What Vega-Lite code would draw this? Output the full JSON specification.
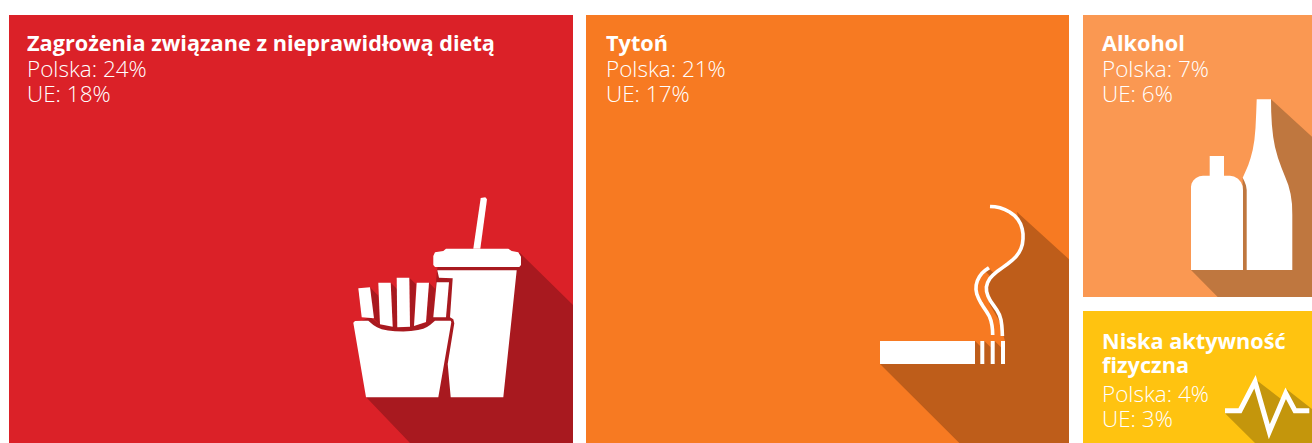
{
"$schema":"https://vega.github.io/schema/vega-lite/v6.json",
"width":1312,"height":443,"padding":0,"autosize":"none","background":"#ffffff",
"config":{"view":{"stroke":null}},
"resolve":{"scale":{"color":"independent"}},
"datasets":{
"tiles":[
{"tile":"dieta","x0":9,"x1":573,"y0":15,"y1":443},
{"tile":"tyton","x0":586,"x1":1069,"y0":15,"y1":443},
{"tile":"alkohol","x0":1083,"x1":1312,"y0":15,"y1":297},
{"tile":"aktywnosc","x0":1083,"x1":1312,"y0":311,"y1":443}],
"heads":[
{"label":"Zagrożenia związane z nieprawidłową dietą","x":27,"y":50.5},
{"label":"Tytoń","x":606,"y":50.5},
{"label":"Alkohol","x":1102,"y":50.5},
{"label":"Niska aktywność","x":1102,"y":349},
{"label":"fizyczna","x":1102,"y":373}],
"lines":[
{"label":"Polska: 24%","x":27,"y":77},{"label":"UE: 18%","x":27,"y":101.5},
{"label":"Polska: 21%","x":606,"y":77},{"label":"UE: 17%","x":606,"y":101.5},
{"label":"Polska: 7%","x":1102,"y":77},{"label":"UE: 6%","x":1102,"y":101.5},
{"label":"Polska: 4%","x":1102,"y":402},{"label":"UE: 3%","x":1102,"y":426.5}],
"shadows":[
{"type":"Feature","properties":{"tile":"dieta"},"geometry":{"type":"Polygon","coordinates":[[[366,397],[410,443],[573,443],[573,305],[520,253],[440,257],[437,270],[433.3,317],[426,322.7],[403.3,327.3],[379.3,324.3],[370,316.7],[360,322],[366,397]]]}},
{"type":"Feature","properties":{"tile":"dieta"},"geometry":{"type":"Polygon","coordinates":[[[370,287.3],[378.3,295.7],[380,325],[373.3,318.3],[370,287.3]]]}},
{"type":"Feature","properties":{"tile":"dieta"},"geometry":{"type":"Polygon","coordinates":[[[390.7,282.7],[397.3,289.3],[397.3,327.3],[392.7,327.3],[390.7,282.7]]]}},
{"type":"Feature","properties":{"tile":"dieta"},"geometry":{"type":"Polygon","coordinates":[[[409.3,277.7],[416,284.3],[414,326],[410,326.7],[409.3,277.7]]]}},
{"type":"Feature","properties":{"tile":"dieta"},"geometry":{"type":"Polygon","coordinates":[[[429,282.7],[435,288.7],[433.3,317.3],[426,322.7],[429,282.7]]]}},
{"type":"Feature","properties":{"tile":"tyton"},"geometry":{"type":"Polygon","coordinates":[[[880,364],[959.3,443],[1069,443],[1069,259.3],[1016.7,211.7],[1024,238],[1018.3,256.7],[1003.3,269],[990,278],[985,290],[990,305],[1001.7,325],[1003.3,335],[1005,341],[1001,341],[1001,347.3],[994.7,341],[990.7,341],[990.7,347.3],[984.3,341],[980.3,341],[980.3,346.3],[975,341],[975,364],[880,364]]]}},
{"type":"Feature","properties":{"tile":"tyton"},"geometry":{"type":"Polygon","coordinates":[[[988.3,267.7],[995,274.3],[991.7,277.7],[985,271],[988.3,267.7]]]}},
{"type":"Feature","properties":{"tile":"alkohol"},"geometry":{"type":"Polygon","coordinates":[[[1191,270],[1217.7,297],[1312,297],[1312,136.7],[1271,99.3],[1271,200],[1242.7,177.7],[1243,270],[1191,270]]]}},
{"type":"Feature","properties":{"tile":"aktywnosc"},"geometry":{"type":"Polygon","coordinates":[[[1225,413.3],[1255,443],[1312,443],[1312,409],[1286.7,389.3],[1282.3,400],[1255,379],[1241.7,410],[1225,413.3]]]}}
],
"whites":[
{"type":"Feature","properties":{"part":"fry1"},"geometry":{"type":"Polygon","coordinates":[[[358.3,288.3],[370,287.3],[374,318.3],[361.7,317.3],[358.3,288.3]]]}},
{"type":"Feature","properties":{"part":"fry2"},"geometry":{"type":"Polygon","coordinates":[[[378.3,282.7],[390.7,282.7],[392.7,326.7],[380,324.3],[378.3,282.7]]]}},
{"type":"Feature","properties":{"part":"fry3"},"geometry":{"type":"Polygon","coordinates":[[[396.7,277.7],[409.3,277.7],[410,326.7],[397.3,327.3],[396.7,277.7]]]}},
{"type":"Feature","properties":{"part":"fry4"},"geometry":{"type":"Polygon","coordinates":[[[416.7,282.7],[429,282.7],[426,322],[414,326],[416.7,282.7]]]}},
{"type":"Feature","properties":{"part":"fry5"},"geometry":{"type":"Polygon","coordinates":[[[436.7,282.3],[449,282.3],[446,317.3],[433.3,317.3],[436.7,282.3]]]}},
{"type":"Feature","properties":{"part":"box"},"geometry":{"type":"Polygon","coordinates":[[[353.3,322.7],[355,321],[365,320.7],[368.3,320.7],[373.3,325],[377,327.3],[381.7,329.3],[388,330.6],[395,331.3],[403.3,331.5],[411,331],[418,330],[423.3,328.7],[427,327],[430,325],[435,320.7],[450.7,320.7],[451.3,322.3],[438.3,397.3],[366,397.3],[353.3,322.7]]]}},
{"type":"Feature","properties":{"part":"cup"},"geometry":{"type":"Polygon","coordinates":[[[437.3,270.3],[516.7,270.3],[503.3,397.3],[450.7,397.3],[447.7,364],[454.3,323.3],[453.3,319.3],[450,317.3],[452.7,278.3],[439,277.7],[437.3,270.3]]]}},
{"type":"Feature","properties":{"part":"lid"},"geometry":{"type":"Polygon","coordinates":[[[433.3,256],[435,252.3],[443.3,251],[446,248.7],[508.3,248.7],[511.7,251],[518.3,252.3],[521,256.7],[521,265],[519.3,267],[435,267],[433.3,265],[433.3,256]]]}},
{"type":"Feature","properties":{"part":"straw"},"geometry":{"type":"Polygon","coordinates":[[[480.7,198],[485.3,197.3],[487,199.3],[480.3,248.7],[473.3,248.7],[480.7,198]]]}},
{"type":"Feature","properties":{"part":"cigarette"},"geometry":{"type":"Polygon","coordinates":[[[880,341],[975,341],[975,364],[880,364],[880,341]]]}},
{"type":"Feature","properties":{"part":"ash1"},"geometry":{"type":"Polygon","coordinates":[[[980.3,341],[984.3,341],[984.3,364],[980.3,364],[980.3,341]]]}},
{"type":"Feature","properties":{"part":"ash2"},"geometry":{"type":"Polygon","coordinates":[[[990.7,341],[994.7,341],[994.7,364],[990.7,364],[990.7,341]]]}},
{"type":"Feature","properties":{"part":"ash3"},"geometry":{"type":"Polygon","coordinates":[[[1001,341],[1005,341],[1005,364],[1001,364],[1001,341]]]}},
{"type":"Feature","properties":{"part":"bottle1"},"geometry":{"type":"Polygon","coordinates":[[[1191,270],[1191,186.7],[1191.6,183.5],[1193.3,180.5],[1196,178],[1199.5,176.3],[1203,175.7],[1209.7,175.7],[1209.7,156],[1224,156],[1224,175.7],[1230,175.7],[1234,176.6],[1238,178.8],[1241,182.2],[1242.6,186],[1243,190],[1243,270],[1191,270]]]}},
{"type":"Feature","properties":{"part":"bottle2"},"geometry":{"type":"Polygon","coordinates":[[[1246.7,270],[1246.7,190],[1246,185.5],[1244.5,181.5],[1242.7,177.7],[1245.5,171.5],[1248.3,165],[1250.6,158],[1252.7,150],[1254.4,140],[1255.5,128],[1256.2,113],[1256.7,99.3],[1271,99.3],[1271.2,112],[1271.9,125],[1273.2,137],[1275,147],[1278,158],[1281.7,168.3],[1285,176.5],[1288.3,185],[1290.6,194],[1292,204],[1292.3,215],[1292.3,270],[1246.7,270]]]}}
],
"strokes":[
{"type":"Feature","properties":{"part":"smoke1"},"geometry":{"type":"LineString","coordinates":[[990,206.5],[995,206.8],[1000,207.8],[1005,209.6],[1010,212.2],[1014.5,215.6],[1018,219.6],[1020.6,224],[1022.2,229],[1023,234],[1023,239],[1022.4,244],[1021,248.5],[1018.8,252.8],[1015.8,256.8],[1012,260.5],[1007.5,264],[1002.5,267.6],[997.5,271.2],[993,275],[989.8,278.6],[987.6,282.6],[986.4,287],[986.6,291.5],[988,296],[990.4,300.8],[993.6,305.4],[996.8,310],[999.4,314.8],[1001,320],[1001.8,325.5],[1002.2,331],[1002.4,336]]}},
{"type":"Feature","properties":{"part":"smoke2"},"geometry":{"type":"LineString","coordinates":[[989,267.7],[985.4,270.2],[982,273.2],[979.4,276.6],[977.4,280.6],[976.2,285],[976,289.5],[976.8,294],[978.6,298.6],[981,303],[983.8,307.6],[986.8,312],[989.4,316.4],[991,320.8],[992,325.6],[992.5,330],[992.7,335]]}}
],
"pulse":[
{"type":"Feature","properties":{"part":"pulse"},"geometry":{"type":"LineString","coordinates":[[1225,410.7],[1240,410.7],[1255,381.7],[1269.3,431.7],[1285.7,393.3],[1295,410.7],[1309.3,410.7]]}}
]
},
"layer":[
{"data":{"name":"tiles"},"mark":{"type":"rect"},
 "encoding":{
 "x":{"field":"x0","type":"quantitative","scale":{"domain":[0,1312],"nice":false,"zero":false},"axis":null},
 "x2":{"field":"x1"},
 "y":{"field":"y0","type":"quantitative","scale":{"domain":[0,443],"nice":false,"zero":false,"reverse":true},"axis":null},
 "y2":{"field":"y1"},
 "color":{"field":"tile","type":"nominal","legend":null,"scale":{"domain":["dieta","tyton","alkohol","aktywnosc"],"range":["#DB2128","#F77A22","#FA9852","#FFC310"]}}}},
{"data":{"name":"shadows"},"mark":{"type":"geoshape","strokeWidth":0},
 "projection":{"type":"identity","scale":1,"translate":[0,0]},
 "encoding":{"color":{"field":"properties.tile","type":"nominal","legend":null,"scale":{"domain":["dieta","tyton","alkohol","aktywnosc"],"range":["#A8191F","#BE5D1A","#BF773F","#C4960C"]}}}},
{"data":{"name":"whites"},"mark":{"type":"geoshape","fill":"#ffffff","strokeWidth":0},
 "projection":{"type":"identity","scale":1,"translate":[0,0]}},
{"data":{"name":"strokes"},"mark":{"type":"geoshape","filled":false,"fill":null,"stroke":"#ffffff","strokeWidth":3.6},
 "projection":{"type":"identity","scale":1,"translate":[0,0]}},
{"data":{"name":"pulse"},"mark":{"type":"geoshape","filled":false,"fill":null,"stroke":"#ffffff","strokeWidth":5},
 "projection":{"type":"identity","scale":1,"translate":[0,0]}},
{"data":{"name":"heads"},"mark":{"type":"text","font":"Open Sans","fontWeight":"bold","fontSize":21.7,"align":"left","baseline":"alphabetic","color":"#ffffff"},
 "encoding":{
 "x":{"field":"x","type":"quantitative"},
 "y":{"field":"y","type":"quantitative"},
 "text":{"field":"label"}}},
{"data":{"name":"lines"},"mark":{"type":"text","font":"Open Sans","fontWeight":300,"fontSize":22.5,"align":"left","baseline":"alphabetic","color":"#ffffff"},
 "encoding":{
 "x":{"field":"x","type":"quantitative"},
 "y":{"field":"y","type":"quantitative"},
 "text":{"field":"label"}}}
]
}
